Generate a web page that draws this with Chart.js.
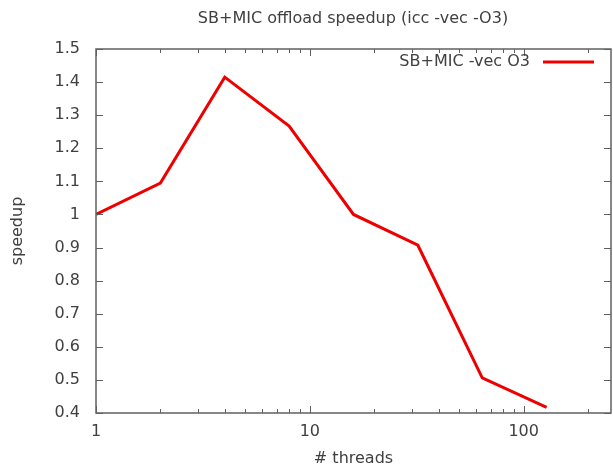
<!DOCTYPE html>
<html>
<head>
<meta charset="utf-8">
<script src="https://cdn.jsdelivr.net/npm/chart.js@4.4.1/dist/chart.umd.min.js"></script>
<style>
  html, body { margin: 0; padding: 0; background: #fff; overflow: hidden; }
  canvas { display: block; }
</style>
</head>
<body>
<canvas id="chart" width="613" height="467"></canvas>
<script>
// data
const threads = [1, 2, 4, 8, 16, 32, 64, 128];
const speedup = [1.0, 1.095, 1.415, 1.267, 1.0, 0.907, 0.506, 0.417];
const seriesName = 'SB+MIC -vec O3';

const xTicks = [1, 2, 3, 4, 5, 6, 7, 8, 9, 10, 20, 30, 40, 50, 60, 70, 80, 90, 100, 200];
const xLabelled = [1, 10, 100];
const yTicks = [0.4, 0.5, 0.6, 0.7, 0.8, 0.9, 1.0, 1.1, 1.2, 1.3, 1.4, 1.5];

const FONT = 'DejaVu Sans';
const TEXT = '#404040';
const FRAME = '#606060';
const RED = '#ee0000';

// gnuplot-like frame: border, inward ticks on all sides, title, labels, key
const gnuFrame = {
  id: 'gnuFrame',
  afterDraw(chart) {
    const ctx = chart.ctx;
    const a = chart.chartArea;
    const xs = chart.scales.x, ys = chart.scales.y;
    ctx.save();
    ctx.strokeStyle = FRAME;
    ctx.lineWidth = 1.5;
    ctx.strokeRect(a.left, a.top, a.right - a.left, a.bottom - a.top);
    ctx.lineWidth = 1;
    ctx.beginPath();
    xTicks.forEach(t => {
      const px = Math.round(xs.getPixelForValue(t)) + 0.5;
      const len = xLabelled.includes(t) ? 7 : 4;
      ctx.moveTo(px, a.bottom); ctx.lineTo(px, a.bottom - len);
      ctx.moveTo(px, a.top); ctx.lineTo(px, a.top + len);
    });
    yTicks.forEach(t => {
      const py = Math.round(ys.getPixelForValue(t)) + 0.5;
      ctx.moveTo(a.left, py); ctx.lineTo(a.left + 7, py);
      ctx.moveTo(a.right, py); ctx.lineTo(a.right - 7, py);
    });
    ctx.stroke();

    ctx.fillStyle = TEXT;
    ctx.font = '16px "' + FONT + '"';
    ctx.textBaseline = 'middle';
    ctx.textAlign = 'center';
    ctx.fillText('SB+MIC offload speedup (icc -vec -O3)', 353, 19);
    ctx.fillText('# threads', (a.left + a.right) / 2, 459);
    ctx.save();
    ctx.translate(18, (a.top + a.bottom) / 2);
    ctx.rotate(-Math.PI / 2);
    ctx.fillText('speedup', 0, 0);
    ctx.restore();

    // key
    ctx.textAlign = 'right';
    ctx.fillText(seriesName, 530, 62);
    ctx.strokeStyle = RED;
    ctx.lineWidth = 3;
    ctx.beginPath();
    ctx.moveTo(543, 62); ctx.lineTo(594, 62);
    ctx.stroke();
    ctx.restore();
  }
};

new Chart(document.getElementById('chart'), {
  type: 'line',
  data: {
    datasets: [{
      label: seriesName,
      data: threads.map((t, i) => ({ x: t, y: speedup[i] })),
      borderColor: RED,
      borderWidth: 3,
      pointRadius: 0,
      tension: 0,
      fill: false
    }]
  },
  options: {
    responsive: false,
    animation: false,
    devicePixelRatio: 1,
    layout: { padding: { top: 49, right: 2, bottom: 0, left: 0 } },
    plugins: {
      legend: { display: false },
      title: { display: false },
      tooltip: { enabled: false }
    },
    scales: {
      x: {
        type: 'logarithmic',
        min: 1,
        max: 256,
        grid: { display: false, drawTicks: false, tickLength: 0 },
        border: { display: false },
        afterBuildTicks: s => { s.ticks = xTicks.map(v => ({ value: v })); },
        afterFit: s => { s.height = 54; },
        ticks: {
          autoSkip: false,
          maxRotation: 0,
          padding: 9,
          color: TEXT,
          font: { family: FONT, size: 16 },
          callback: v => xLabelled.includes(v) ? String(v) : ''
        }
      },
      y: {
        type: 'linear',
        min: 0.4,
        max: 1.5,
        grid: { display: false, drawTicks: false, tickLength: 0 },
        border: { display: false },
        afterBuildTicks: s => { s.ticks = yTicks.map(v => ({ value: v })); },
        afterFit: s => { s.width = 96; },
        ticks: {
          padding: 16,
          color: TEXT,
          font: { family: FONT, size: 16 },
          callback: v => String(Number(v.toFixed(1)))
        }
      }
    }
  },
  plugins: [gnuFrame]
});
</script>
</body>
</html>
